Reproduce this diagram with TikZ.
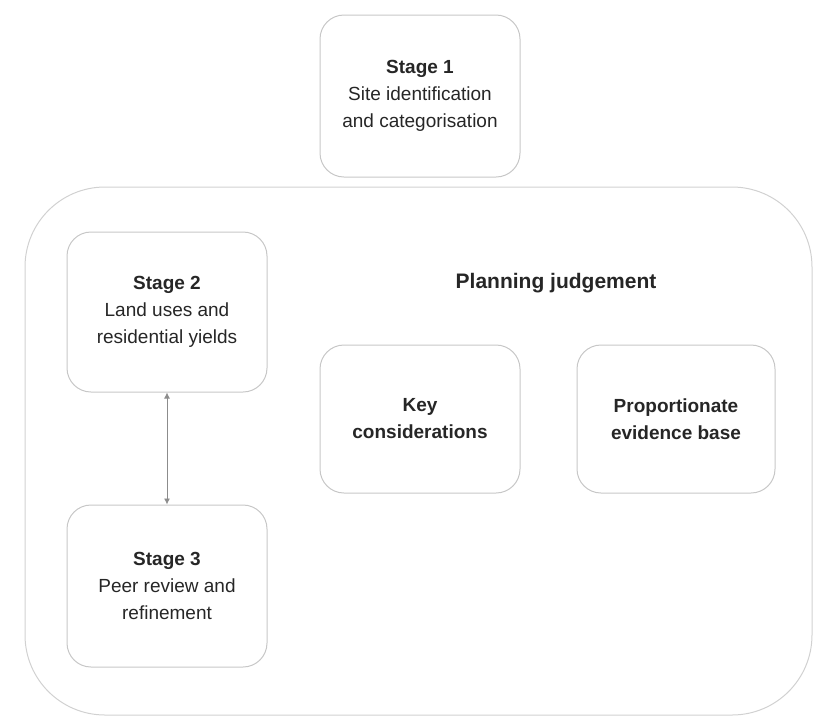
\documentclass[tikz,border=0pt]{standalone}
\usepackage{fontspec}
\setmainfont{Liberation Sans}
\usetikzlibrary{arrows.meta}
\tikzset{
  stagebox/.style={draw=black!22, line width=1pt, rounded corners=24pt, minimum width=200pt, minimum height=160pt, align=center, text=black!85, font=\fontsize{19}{27}\selectfont},
  outerbox/.style={draw=black!18, line width=1pt, rounded corners=80pt},
  link/.style={draw=black!45, line width=0.9pt, {Latex[length=6pt,width=6pt]}-{Latex[length=6pt,width=6pt]}}
}
\begin{document}
\begin{tikzpicture}[x=1pt, y=-1pt]
        \useasboundingbox (0,0) rectangle (814,724);
        \draw[outerbox] (25,187) rectangle (812,715);
        \node[stagebox, minimum height=162pt] (s1) at (420,96) {\textbf{Stage 1}\\Site identification\\and categorisation};
        \node[stagebox] (s2) at (167,312) {\textbf{Stage 2}\\Land uses and\\residential yields};
        \node[stagebox, minimum height=162pt] (s3) at (167,586) {\textbf{Stage 3}\\Peer review and\\refinement};
        \node[font=\fontsize{21}{26}\selectfont\bfseries, text=black!85] (pj) at (556,283) {Planning judgement};
        \node[stagebox, minimum height=148pt, font=\fontsize{19}{27}\selectfont\bfseries] (kc) at (420,419) {Key\\considerations};
        \node[stagebox, minimum width=198pt, minimum height=148pt, font=\fontsize{19}{27}\selectfont\bfseries] (pe) at (676,419) {Proportionate\\evidence base};
        \draw[link] (s2) -- (s3);
      \end{tikzpicture}
\end{document}
